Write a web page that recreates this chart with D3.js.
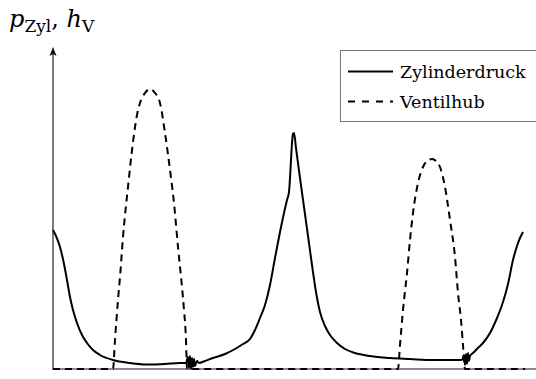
<!DOCTYPE html>
<html>
<head>
<meta charset="utf-8">
<script src="https://cdn.jsdelivr.net/npm/d3@7"></script>
<style>
  html, body { margin: 0; padding: 0; background: #fff; }
  svg { display: block; }
</style>
</head>
<body>
<svg id="chart" width="536" height="379"></svg>
<script>
// Crank angle in degrees (one working cycle)
const pressureAngle = [
  0, 4.5, 10.5, 16.5, 21, 25.5, 30, 36, 43.5, 51, 60, 70.5, 90, 115.5, 141, 168, 190.5,
  199.5, 202.5, 204, 205.5, 207, 208.5, 210, 211.5, 213, 216, 219,
  228, 240, 258, 273, 285, 295.5, 303, 310.5, 318, 325.5, 333, 340.5, 346.5, 351, 354,
  355.5, 357, 358.5, 360, 361.5, 364.5, 370.5, 376.5, 382.5, 388.5, 394.5, 400.5, 408,
  415.5, 426, 438, 453, 475.5, 505.5, 535.5, 570, 603, 613.5,
  616.5, 618, 619.5, 621, 622.5, 624, 625.5,
  630, 636, 645, 655.5, 666, 675, 682.5, 690, 696, 700.5, 705
];
// Cylinder pressure (relative units)
const pressureValue = [
  13.9, 13.3, 12.2, 10.5, 8.9, 7.2, 5.9, 4.6, 3.4, 2.6, 1.9, 1.4, 0.9, 0.6, 0.45, 0.5, 0.6,
  0.6, 1.2, 0.1, 1.3, 0.0, 1.1, 0.2, 1.0, 0.3, 0.8, 0.6,
  0.8, 1.1, 1.5, 2.0, 2.5, 3.0, 3.9, 5.1, 6.4, 8.4, 11.1, 13.7, 15.6, 16.9, 17.7,
  19.1, 20.9, 22.6, 23.5, 23.6, 22.1, 19.1, 16.2, 13.3, 10.4, 7.7, 5.7, 4.3,
  3.4, 2.6, 2.0, 1.6, 1.3, 1.1, 1.0, 0.9, 0.9, 0.9,
  1.4, 0.4, 1.5, 0.5, 1.6, 0.8, 1.3,
  1.6, 2.0, 2.6, 3.6, 5.1, 6.7, 8.5, 10.9, 12.3, 13.1, 13.7
];

// Valve lift over crank angle
const liftAngle = [
  0, 90, 93, 97.5, 100.5, 105, 112.5, 120, 126, 130.5, 138, 145.5, 153, 160.5, 168,
  175.5, 181.5, 187.5, 193.5, 196.5, 199.5, 201,
  517.5, 520.5, 525, 531, 535.5, 540, 547.5, 555, 561, 568.5, 574.5, 580.5, 588,
  595.5, 603, 607.5, 612, 615, 618, 708
];
const liftValue = [
  0, 0, 2.9, 6.9, 9.2, 13.2, 18.2, 22.7, 25.4, 26.6, 27.6, 28.0, 27.6, 26.6, 23.6,
  19.9, 16.6, 12.2, 8.2, 5.9, 2.9, 0,
  0, 2.4, 5.9, 9.6, 12.9, 15.6, 18.6, 20.2, 20.8, 21.0, 20.8, 20.2, 18.2,
  14.9, 11.2, 7.6, 4.9, 2.4, 0, 0
];

const seriesNames = ["Zylinderdruck", "Ventilhub"];

const svg = d3.select("#chart");
const x = d3.scaleLinear().domain([0, 720]).range([53, 533]);
const y = d3.scaleLinear().domain([0, 32]).range([369, 49]);

const pressure = pressureAngle.map((a, i) => [a, pressureValue[i]]);
const lift = liftAngle.map((a, i) => [a, liftValue[i]]);

const line = d3.line()
  .x(d => x(d[0]))
  .y(d => y(d[1]))
  .curve(d3.curveMonotoneX);

// x axis (grey baseline, no ticks)
svg.append("line")
  .attr("x1", x(0)).attr("x2", 540)
  .attr("y1", y(0)).attr("y2", y(0))
  .attr("stroke", "#8a8a8a").attr("stroke-width", 2);

// y axis with arrow head
svg.append("line")
  .attr("x1", x(0)).attr("x2", x(0))
  .attr("y1", y(0) + 1).attr("y2", 52)
  .attr("stroke", "#222").attr("stroke-width", 1.2);
svg.append("path")
  .attr("d", d3.line()([[x(0), 47], [x(0) - 3.5, 56], [x(0), 54], [x(0) + 3.5, 56]]) + "Z")
  .attr("fill", "#111");

// series
svg.append("path")
  .datum(lift)
  .attr("d", line)
  .attr("fill", "none")
  .attr("stroke", "#000")
  .attr("stroke-width", 2)
  .attr("stroke-dasharray", "7,5");

svg.append("path")
  .datum(pressure)
  .attr("d", line)
  .attr("fill", "none")
  .attr("stroke", "#000")
  .attr("stroke-width", 2)
  .attr("stroke-linejoin", "round");

// axis label: p_Zyl, h_V
const lab = svg.append("text")
  .attr("x", 9).attr("y", 27)
  .attr("font-family", "DejaVu Serif")
  .attr("font-size", 24)
  .attr("fill", "#000");
lab.append("tspan").attr("font-style", "italic").text("p");
lab.append("tspan").attr("font-size", 17).attr("dy", 5).text("Zyl");
lab.append("tspan").attr("dy", -5).text(", ");
lab.append("tspan").attr("font-style", "italic").text("h");
lab.append("tspan").attr("font-size", 17).attr("dy", 5).text("V");

// legend
const lg = svg.append("g");
lg.append("rect")
  .attr("x", 340.5).attr("y", 50.5)
  .attr("width", 220).attr("height", 71)
  .attr("fill", "#fff")
  .attr("stroke", "#777").attr("stroke-width", 1);

const legendRows = [
  { name: seriesNames[0], dash: null, ly: 71.5, ty: 78 },
  { name: seriesNames[1], dash: "7,7", ly: 101.5, ty: 108 }
];
legendRows.forEach(r => {
  lg.append("line")
    .attr("x1", 348).attr("x2", 393)
    .attr("y1", r.ly).attr("y2", r.ly)
    .attr("stroke", "#000").attr("stroke-width", 2)
    .attr("stroke-dasharray", r.dash);
  lg.append("text")
    .attr("x", 400).attr("y", r.ty)
    .attr("font-family", "DejaVu Serif")
    .attr("font-size", 17.5)
    .attr("fill", "#000")
    .text(r.name);
});
</script>
</body>
</html>
